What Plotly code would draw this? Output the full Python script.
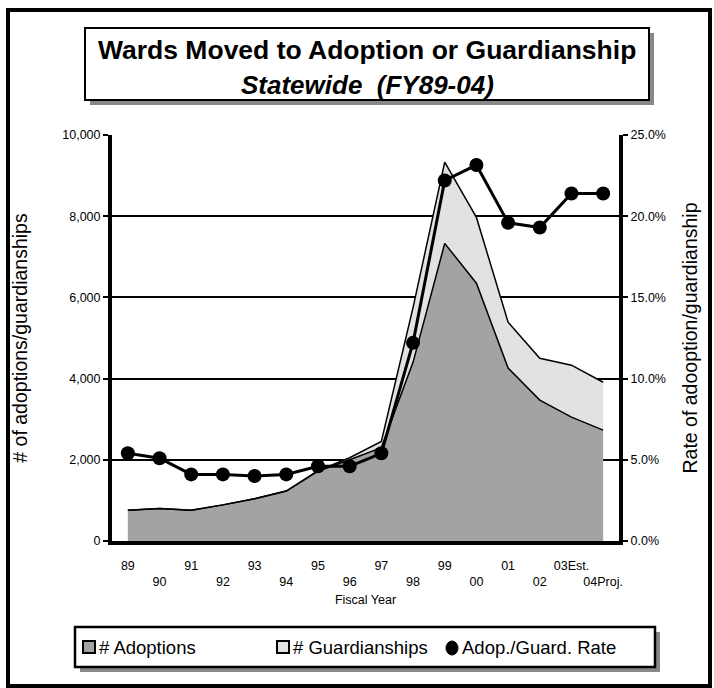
import plotly.graph_objects as go

# Fiscal years FY89 through FY04 (FY03 estimated, FY04 projected)
years = ["89", "90", "91", "92", "93", "94", "95", "96",
         "97", "98", "99", "00", "01", "02", "03", "04"]
year_labels = ["89", "90", "91", "92", "93", "94", "95", "96",
               "97", "98", "99", "00", "01", "02", "03Est.", "04Proj."]

adoptions = [760, 800, 760, 890, 1040, 1230, 1720, 2000,
             2300, 4400, 7330, 6350, 4260, 3470, 3050, 2730]
guardianships = [0, 0, 0, 0, 0, 0, 10, 50,
                 150, 1350, 2000, 1620, 1130, 1030, 1280, 1180]
rate = [0.054, 0.051, 0.041, 0.041, 0.040, 0.041, 0.046, 0.046,
        0.054, 0.122, 0.222, 0.2315, 0.196, 0.193, 0.214, 0.214]

count_ticks = [0, 2000, 4000, 6000, 8000, 10000]
rate_ticks = [0, 0.05, 0.10, 0.15, 0.20, 0.25]

ADOPT_FILL = "#a3a3a3"
GUARD_FILL = "#e2e2e2"
FONT = "Arial, Liberation Sans, sans-serif"

W, H = 714, 688
L, R, T, B = 112, 619, 135, 541   # plot-area edges in pixels


def px(x):
    return (x - L) / (R - L)


def py(y):
    return (B - y) / (B - T)


# staggered two-row category labels
tick_text = [lab if i % 2 == 0 else "\u00a0<br>" + lab
             for i, lab in enumerate(year_labels)]

fig = go.Figure()

fig.add_trace(go.Scatter(
    x=years, y=adoptions, name="# Adoptions", stackgroup="wards",
    mode="lines", line=dict(color="black", width=1.5),
    fillcolor=ADOPT_FILL, showlegend=False))

fig.add_trace(go.Scatter(
    x=years, y=guardianships, name="# Guardianships", stackgroup="wards",
    mode="lines", line=dict(color="black", width=1.5),
    fillcolor=GUARD_FILL, showlegend=False))

fig.add_trace(go.Scatter(
    x=years, y=rate, name="Adop./Guard. Rate", yaxis="y2",
    mode="lines+markers", line=dict(color="black", width=3),
    marker=dict(color="black", size=14), showlegend=False))

shapes = [
    # outer frame
    dict(type="rect", xref="paper", yref="paper",
         x0=px(8), x1=px(710), y0=py(10), y1=py(686),
         line=dict(color="black", width=4), fillcolor="rgba(0,0,0,0)"),
    # title box with drop shadow
    dict(type="rect", xref="paper", yref="paper",
         x0=px(90), x1=px(654), y0=py(33), y1=py(105),
         line=dict(width=0), fillcolor="#888888"),
    dict(type="rect", xref="paper", yref="paper",
         x0=px(85), x1=px(649), y0=py(28), y1=py(100),
         line=dict(color="black", width=2), fillcolor="white"),
    # legend box with drop shadow
    dict(type="rect", xref="paper", yref="paper",
         x0=px(80), x1=px(660), y0=py(632), y1=py(672),
         line=dict(width=0), fillcolor="#888888"),
    dict(type="rect", xref="paper", yref="paper",
         x0=px(75), x1=px(655), y0=py(627), y1=py(667),
         line=dict(color="black", width=2.5), fillcolor="white"),
    # legend swatches
    dict(type="rect", xref="paper", yref="paper",
         x0=px(83), x1=px(95), y0=py(641), y1=py(653),
         line=dict(color="black", width=2), fillcolor=ADOPT_FILL),
    dict(type="rect", xref="paper", yref="paper",
         x0=px(277), x1=px(289), y0=py(641), y1=py(653),
         line=dict(color="black", width=2), fillcolor=GUARD_FILL),
    dict(type="circle", xref="paper", yref="paper",
         x0=px(446), x1=px(458), y0=py(641), y1=py(655),
         line=dict(color="black", width=1), fillcolor="black"),
]

annotations = [
    dict(text="<b>Wards Moved to Adoption or Guardianship</b>",
         xref="paper", yref="paper", x=px(367), y=py(50),
         xanchor="center", yanchor="middle", showarrow=False,
         font=dict(family=FONT, size=26.5, color="black")),
    dict(text="<b><i>Statewide\u00a0\u00a0(FY89-04)</i></b>",
         xref="paper", yref="paper", x=px(367), y=py(85),
         xanchor="center", yanchor="middle", showarrow=False,
         font=dict(family=FONT, size=26, color="black")),
    dict(text="# Adoptions", xref="paper", yref="paper",
         x=px(97), y=py(647), xanchor="left", yanchor="middle",
         showarrow=False, font=dict(family=FONT, size=18.5, color="black")),
    dict(text="# Guardianships", xref="paper", yref="paper",
         x=px(291), y=py(647), xanchor="left", yanchor="middle",
         showarrow=False, font=dict(family=FONT, size=18.5, color="black")),
    dict(text="Adop./Guard. Rate", xref="paper", yref="paper",
         x=px(460), y=py(647), xanchor="left", yanchor="middle",
         showarrow=False, font=dict(family=FONT, size=18.5, color="black")),
]

fig.update_layout(
    width=W, height=H,
    margin=dict(l=L, r=W - R, t=T, b=H - B, pad=0),
    paper_bgcolor="white", plot_bgcolor="white",
    font=dict(family=FONT, size=12, color="black"),
    shapes=shapes, annotations=annotations,
    showlegend=False,
    xaxis=dict(
        type="category", range=[-0.5, 15.5],
        tickmode="array", tickvals=years, ticktext=tick_text,
        tickfont=dict(size=12.5), tickangle=0, ticks="",
        ticklabelstandoff=10,
        showline=True, linecolor="black", linewidth=4,
        showgrid=False, zeroline=False,
        title=dict(text="Fiscal Year", font=dict(size=12.5), standoff=8),
    ),
    yaxis=dict(
        range=[0, 10000], tickmode="array", tickvals=count_ticks,
        tickformat=",", tickfont=dict(size=12.5),
        showline=True, linecolor="black", linewidth=4,
        ticks="outside", ticklen=5, tickwidth=2, tickcolor="black",
        showgrid=True, gridcolor="black", gridwidth=2, zeroline=False,
        title=dict(text="# of adoptions/guardianships",
                   font=dict(size=19.5), standoff=30),
    ),
    yaxis2=dict(
        overlaying="y", side="right", range=[0, 0.25],
        tickmode="array", tickvals=rate_ticks, tickformat=".1%",
        tickfont=dict(size=12.5),
        showline=True, linecolor="black", linewidth=4,
        ticks="outside", ticklen=5, tickwidth=2, tickcolor="black",
        showgrid=False, zeroline=False,
        title=dict(text="Rate of adooption/guardianship",
                   font=dict(size=19.5), standoff=19),
    ),
)

fig.write_html("out.html")
